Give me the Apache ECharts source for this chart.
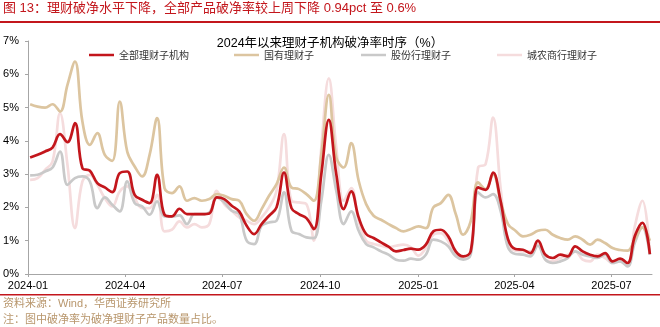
<!DOCTYPE html>
<html>
<head>
<meta charset="utf-8">
<script src="https://cdn.jsdelivr.net/npm/echarts@6/dist/echarts.min.js"></script>
<style>
html,body{margin:0;padding:0;background:#fff;}
#c{width:660px;height:327px;}
</style>
</head>
<body>
<div id="c"></div>
<script>
var dates = [
'2024-01-03','2024-01-10','2024-01-17','2024-01-24','2024-01-31','2024-02-07','2024-02-14','2024-02-21','2024-02-28',
'2024-03-06','2024-03-13','2024-03-20','2024-03-27','2024-04-03','2024-04-10','2024-04-17','2024-04-24',
'2024-05-01','2024-05-08','2024-05-15','2024-05-22','2024-05-29','2024-06-05','2024-06-12','2024-06-19','2024-06-26',
'2024-07-03','2024-07-10','2024-07-17','2024-07-24','2024-07-31','2024-08-07','2024-08-14','2024-08-21','2024-08-28',
'2024-09-04','2024-09-11','2024-09-18','2024-09-25','2024-10-02','2024-10-09','2024-10-16','2024-10-23','2024-10-30',
'2024-11-06','2024-11-13','2024-11-20','2024-11-27','2024-12-04','2024-12-11','2024-12-18','2024-12-25',
'2025-01-01','2025-01-08','2025-01-15','2025-01-22','2025-01-29','2025-02-05','2025-02-12','2025-02-19','2025-02-26',
'2025-03-05','2025-03-12','2025-03-19','2025-03-26','2025-04-02','2025-04-09','2025-04-16','2025-04-23','2025-04-30',
'2025-05-07','2025-05-14','2025-05-21','2025-05-28','2025-06-04','2025-06-11','2025-06-18','2025-06-25',
'2025-07-02','2025-07-09','2025-07-16','2025-07-23','2025-07-30','2025-08-06'
];
var allInst = [3.5,3.58,3.68,3.8,4.2,3.96,4.53,3.18,3.1,2.73,2.6,2.46,3.03,3.08,2.38,2.23,2.13,2.98,1.78,1.73,1.96,1.8,1.8,1.8,1.82,2.3,2.25,2.05,1.88,1.45,1.2,1.5,1.75,2.0,3.05,1.98,1.8,1.68,1.35,3.0,4.63,3.0,1.95,2.48,1.7,1.2,1.08,0.95,0.82,0.68,0.72,0.76,0.73,0.88,1.28,1.33,1.13,0.68,0.53,0.68,2.6,2.53,3.05,2.2,1.05,0.75,0.73,0.63,1.0,0.58,0.48,0.58,0.53,0.83,0.68,0.58,0.53,0.63,0.38,0.46,0.33,1.15,1.54,0.6];
var stateOwned = [5.1,5.03,5.0,5.1,4.88,5.68,6.38,4.58,3.88,4.23,3.58,3.4,5.18,3.68,3.23,2.93,3.58,4.68,2.58,2.43,2.63,2.2,2.28,2.2,2.25,2.4,2.35,2.25,2.2,1.8,1.6,1.95,2.35,2.7,3.2,2.6,2.55,2.4,2.2,3.6,5.38,3.5,3.2,3.93,2.8,2.1,1.75,1.63,1.5,1.38,1.28,1.35,1.43,1.38,2.0,2.13,2.38,1.8,1.18,1.58,2.75,2.55,3.0,2.2,1.5,1.3,1.13,1.18,1.3,1.33,1.18,1.08,1.03,1.13,1.03,0.88,1.03,0.93,0.78,0.72,0.7,1.05,1.4,1.0];
var jointStock = [2.96,2.98,3.08,3.2,3.68,2.68,2.88,2.93,2.78,1.98,2.3,2.08,1.88,2.78,2.13,2.03,1.78,2.18,1.73,1.73,1.76,1.5,1.8,1.8,1.85,2.3,2.15,1.9,1.8,1.0,0.9,1.45,1.55,1.6,2.45,1.3,1.2,1.1,1.08,2.2,3.58,2.5,1.5,1.88,1.3,0.9,0.8,0.68,0.58,0.43,0.4,0.46,0.43,0.58,1.03,0.98,0.83,0.53,0.43,0.58,2.45,2.3,2.4,1.9,0.8,0.6,0.58,0.53,0.85,0.43,0.33,0.38,0.48,0.68,0.58,0.53,0.48,0.58,0.33,0.38,0.23,0.95,1.4,0.58];
var cityRural = [2.83,2.88,3.13,3.38,4.83,3.28,1.38,2.78,2.98,2.68,2.28,2.03,2.48,2.63,2.28,1.98,1.98,2.38,1.28,1.33,1.58,1.4,1.5,1.4,1.5,2.5,2.1,1.9,1.7,1.6,1.5,1.7,2.0,2.5,4.2,2.2,2.15,2.1,1.0,3.8,5.88,3.8,2.2,2.58,1.6,1.0,0.9,0.85,0.8,0.85,0.88,0.8,0.55,0.78,1.18,1.23,0.98,0.58,0.48,0.68,3.2,3.3,4.7,2.6,0.9,0.7,0.68,0.68,0.95,0.43,0.38,0.48,0.58,0.68,0.43,0.38,0.58,0.48,0.33,0.38,0.28,1.45,2.2,0.6];
var xTicks = ['2024-01','2024-04','2024-07','2024-10','2025-01','2025-04','2025-07'];
var seriesNames = ['全部理财子机构','国有理财子','股份行理财子','城农商行理财子'];
var colors = ['#C3161C','#DCC5A0','#C9C9C9','#F5DCDD'];

function ts(s){ var p=s.split('-'); return Date.UTC(+p[0], +p[1]-1, p[2]?+p[2]:1); }
function pairs(v){ return v.map(function(y,i){ return [ts(dates[i]), y]; }); }
var tickVals = xTicks.map(ts);
var font = '"Liberation Sans","Noto Sans CJK SC",sans-serif';
var cjk = '"Noto Sans CJK SC",sans-serif';

var chart = echarts.init(document.getElementById('c'), null, {renderer:'canvas'});
var vals = [allInst, stateOwned, jointStock, cityRural];
var zs = [5,4,3,2];
var series = seriesNames.map(function(n,i){
  return {name:n, type:'line', data:pairs(vals[i]), smooth:0.4, symbol:'none', z:zs[i],
    lineStyle:{color:colors[i], width:2.7}, itemStyle:{color:colors[i]}};
});
var legendLefts = [84, 229, 356, 492];
var legends = seriesNames.map(function(n,i){
  return {data:[n], left:legendLefts[i], top:45, icon:'rect', itemWidth:25, itemHeight:2.5, itemGap:4,
    textStyle:{fontSize:10, color:'#333', fontFamily:cjk}, selectedMode:false};
});
chart.setOption({
  animation:false,
  title:{text:'2024年以来理财子机构破净率时序（%）', left:'center', top:32, textStyle:{fontSize:12.5, fontWeight:'normal', color:'#000', fontFamily:font}},
  legend:legends,
  grid:{left:28, right:8, top:41, bottom:53},
  xAxis:{type:'value', min:ts('2024-01-01'), max:ts('2025-08-08'),
    axisLine:{lineStyle:{color:'#A6A6A6', width:1}},
    axisTick:{show:true, length:3, lineStyle:{color:'#A6A6A6'}, customValues:tickVals},
    axisLabel:{customValues:tickVals, fontSize:11, color:'#000', margin:6, fontFamily:font,
      formatter:function(v){ var d=new Date(v); var m=d.getUTCMonth()+1; return d.getUTCFullYear()+'-'+(m<10?'0'+m:m); }},
    splitLine:{show:false}},
  yAxis:{type:'value', min:0, max:7, interval:1,
    axisLine:{show:true, lineStyle:{color:'#A6A6A6', width:1}},
    axisTick:{show:true, length:3, lineStyle:{color:'#A6A6A6'}},
    axisLabel:{formatter:'{value}%', fontSize:11, color:'#000', margin:9, fontFamily:font},
    splitLine:{show:false}},
  series:series,
  graphic:[
    {type:'text', left:3, top:2, style:{text:'图 13：理财破净水平下降，全部产品破净率较上周下降 0.94pct 至 0.6%', fill:'#C3161C', font:'13px '+font}},
    {type:'rect', shape:{x:0, y:21, width:660, height:2}, style:{fill:'#C3161C'}},
    {type:'rect', shape:{x:0, y:294, width:660, height:1.5}, style:{fill:'#C3161C'}},
    {type:'text', left:3, top:298, style:{text:'资料来源：Wind，华西证券研究所', fill:'#B8966C', font:'11px '+font}},
    {type:'text', left:3, top:314, style:{text:'注：图中破净率为破净理财子产品数量占比。', fill:'#B8966C', font:'11px '+font}}
  ]
});
</script>
</body>
</html>
